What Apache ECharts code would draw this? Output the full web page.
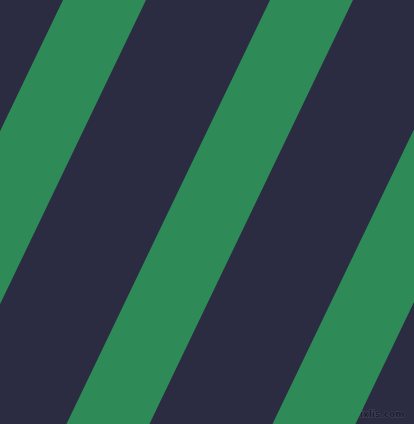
<!DOCTYPE html>
<html style="height: 100%">
<head>
	<meta charset="utf-8">
	<title></title>
	<script type="text/javascript" src="https://cdn.jsdelivr.net/npm/echarts@6/dist/echarts.min.js"></script>
</head>
<body style="height: 100%; margin: 0">
<div id="container" style="height: 100%"></div>
<script type="text/javascript">
	// x where each green stripe's left edge meets the top of the picture
	var stripeStarts = [-144, 63, 270, 476];
	// horizontal width of one stripe, and its lean (x shift per unit of y)
	var stripeWidth = [83];
	var stripeLean = [0.48];
	var frameX = [0, 414];
	var frameY = [0, 424];

	var dom = document.getElementById("container");
	var myChart = echarts.init(dom);

	var data = [];
	for (var i = 0; i < stripeStarts.length; i++) {
		data.push([stripeStarts[i], stripeWidth[0], stripeLean[0]]);
	}

	var option = {
		backgroundColor: '#2b2b42',
		animation: false,
		grid: {left: 0, right: 0, top: 0, bottom: 0},
		xAxis: {type: 'value', min: frameX[0], max: frameX[1], show: false},
		yAxis: {type: 'value', min: frameY[0], max: frameY[1], inverse: true, show: false},
		graphic: [{
			type: 'text',
			right: 9,
			bottom: 4,
			style: {
				text: 'pixlis.com',
				fill: '#1d1e2d',
				font: 'bold 9px "DejaVu Sans"',
				stroke: '#4a4c66',
				lineWidth: 0.8
			}
		}],
		series: [{
			type: 'custom',
			clip: true,
			data: data,
			renderItem: function (params, api) {
				var x0 = api.value(0);
				var w = api.value(1);
				var s = api.value(2);
				var h = frameY[1];
				var pts = [
					api.coord([x0, 0]),
					api.coord([x0 + w, 0]),
					api.coord([x0 + w - s * h, h]),
					api.coord([x0 - s * h, h])
				];
				return {
					type: 'polygon',
					shape: {points: pts},
					style: {fill: '#2e8b57'}
				};
			}
		}]
	};
	myChart.setOption(option);
</script>
</body>
</html>
